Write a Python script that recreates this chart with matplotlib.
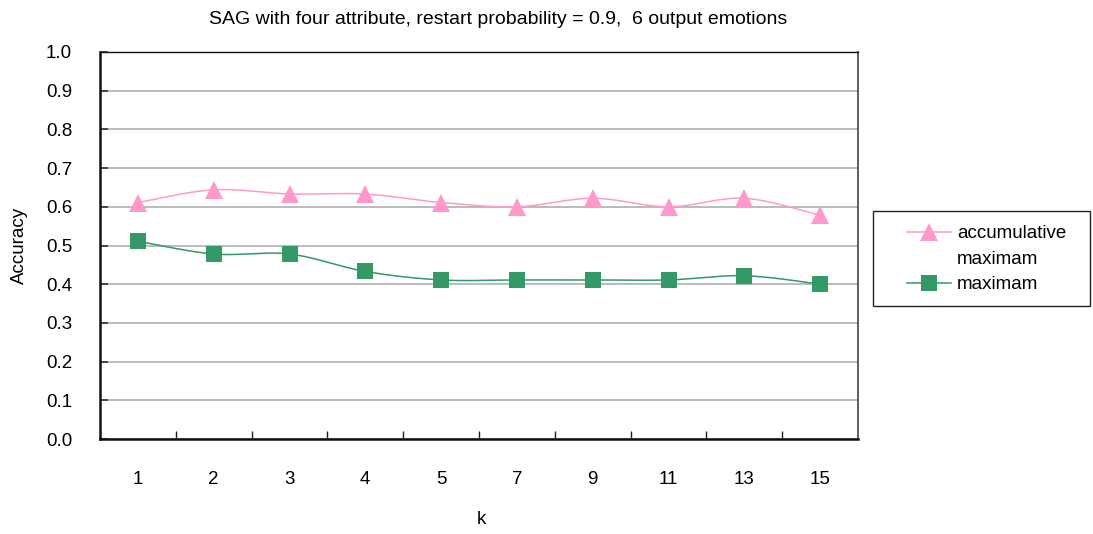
import numpy as np
import matplotlib
matplotlib.use("Agg")
import matplotlib.pyplot as plt
from matplotlib.lines import Line2D
from matplotlib.patches import Rectangle

plt.rcParams['font.family'] = ['Liberation Sans', 'DejaVu Sans']

# k values (categorical x axis) and accuracies of the two strategies
k_labels = ['1', '2', '3', '4', '5', '7', '9', '11', '13', '15']
accumulative_maximam = [0.611, 0.644, 0.633, 0.633, 0.611, 0.600, 0.622, 0.600, 0.622, 0.578]
maximam = [0.511, 0.478, 0.478, 0.433, 0.411, 0.411, 0.411, 0.411, 0.422, 0.400]
y_ticks = [0.0, 0.1, 0.2, 0.3, 0.4, 0.5, 0.6, 0.7, 0.8, 0.9, 1.0]

title = 'SAG with four attribute, restart probability = 0.9,  6 output emotions'

PINK = '#ff99cc'
GREEN = '#339966'
FS = 13.5
FS_TITLE = 14


def smooth(xs, ys, n=30):
    """Cubic Bezier smoothing through every point (Catmull-Rom style control points)."""
    xs = np.asarray(xs, float)
    ys = np.asarray(ys, float)
    pts = np.column_stack([xs, ys])
    out = []
    for i in range(len(pts) - 1):
        p0 = pts[i - 1] if i > 0 else pts[i]
        p1 = pts[i]
        p2 = pts[i + 1]
        p3 = pts[i + 2] if i + 2 < len(pts) else pts[i + 1]
        c1 = p1 + (p2 - p0) / 6.0
        c2 = p2 - (p3 - p1) / 6.0
        t = np.linspace(0, 1, n)[:, None]
        seg = ((1 - t) ** 3) * p1 + 3 * ((1 - t) ** 2) * t * c1 + 3 * (1 - t) * t ** 2 * c2 + t ** 3 * p2
        out.append(seg if i == 0 else seg[1:])
    curve = np.vstack(out)
    return curve[:, 0], curve[:, 1]


W, H = 1093, 534
fig = plt.figure(figsize=(W / 100, H / 100), dpi=100)
ax = fig.add_axes([100 / W, 1 - 439 / H, (858 - 100) / W, (439 - 52) / H])

x = np.arange(len(k_labels))

for vals, color, marker, ms in [(accumulative_maximam, PINK, '^', 12.5),
                                (maximam, GREEN, 's', 11.5)]:
    sx, sy = smooth(x, vals)
    ax.plot(sx, sy, color=color, lw=1.1, zorder=3)
    ax.plot(x, vals, linestyle='none', marker=marker, ms=ms, color=color,
            markeredgewidth=0, zorder=4)

ax.set_xlim(-0.5, len(k_labels) - 0.5)
ax.set_ylim(0, 1.0)

ax.set_yticks(y_ticks)
ax.set_yticklabels([f'{v:.1f}' for v in y_ticks])
ax.yaxis.grid(True, color='#a8a8a8', lw=1.1)
ax.set_axisbelow(True)

# category labels centred in each slot, tick marks on the slot boundaries
ax.set_xticks(x)
ax.set_xticklabels(k_labels)
ax.set_xticks(np.arange(0.5, len(k_labels) - 1, 1.0), minor=True)
ax.tick_params(axis='x', which='major', length=0, pad=23, labelsize=FS)
ax.tick_params(axis='x', which='minor', direction='in', length=6, width=1, color='#222222')
ax.tick_params(axis='y', direction='in', length=6, width=1.2, color='#333333', pad=20, labelsize=FS)

for side in ['left', 'bottom']:
    ax.spines[side].set_linewidth(1.8)
    ax.spines[side].set_color('#111111')
ax.spines['top'].set_linewidth(1.0)
ax.spines['top'].set_color('#111111')
ax.spines['right'].set_linewidth(1.2)
ax.spines['right'].set_color('#444444')

fig.text(498 / W, 1 - 20 / H, title, ha='center', va='center', fontsize=FS_TITLE)
fig.text(19 / W, 1 - 245 / H, 'Accuracy', rotation=90, ha='center', va='center', fontsize=FS)
fig.text(481 / W, 1 - 520 / H, 'k', ha='center', va='center', fontsize=FS)

# legend: frame drawn as a box, entries laid inside it
fig.patches.append(Rectangle((873 / W, 1 - 306 / H), (1090 - 873) / W, (306 - 211) / H,
                             transform=fig.transFigure, fill=False, ec='#222222', lw=1.0))
handles = [
    Line2D([], [], color=PINK, lw=1.1, marker='^', ms=12.5, markeredgewidth=0),
    Line2D([], [], color='none', lw=0),
    Line2D([], [], color=GREEN, lw=1.1, marker='s', ms=11.5, markeredgewidth=0),
]
fig.legend(handles, ['accumulative', 'maximam', 'maximam'],
           loc='upper left', bbox_to_anchor=(907 / W, 1 - 225 / H),
           frameon=False, fontsize=FS, handlelength=2.35, handletextpad=0.32,
           labelspacing=0.45, borderpad=0, borderaxespad=0)

fig.savefig('out.png', dpi=100)
